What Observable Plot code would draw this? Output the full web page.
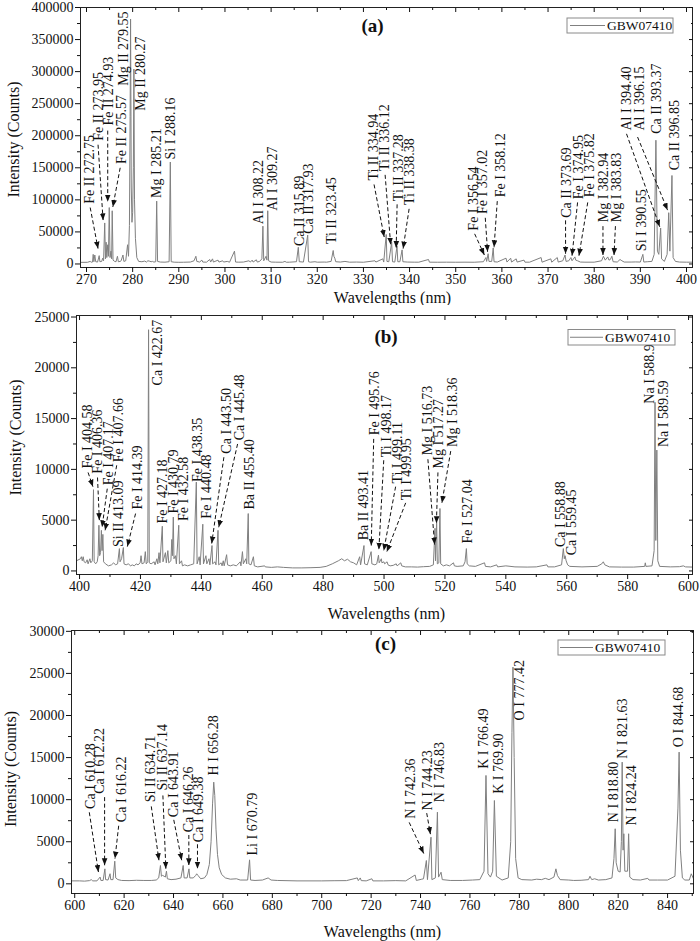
<!DOCTYPE html>
<html>
<head>
<meta charset="utf-8">
<script src="https://cdn.jsdelivr.net/npm/d3@7"></script>
<script src="https://cdn.jsdelivr.net/npm/@observablehq/plot@0.6"></script>
<style>
  body { margin: 0; background: #fff; }
  #chart { width: 700px; }
  #chart svg { display: block; }
</style>
</head>
<body>
<div id="chart"></div>
<script>
// ---------------- DATA ----------------
const seriesName = "GBW07410";
const yTitle = "Intensity (Counts)";
const xTitle = "Wavelengths (nm)";

// Panel (a) 270–400 nm : [wavelength nm, intensity counts]
const spectrumA = [
 [268.7,2500],[270.2,2600],[270.8,4000],[271.0,2800],[271.3,3000],[271.45,15000],[271.6,3500],[271.8,14000],[272.0,3500],[272.4,3000],[272.75,13000],[272.9,3500],[273.3,4000],[273.5,9000],[273.7,5000],[273.95,64000],[274.1,8000],[274.25,34000],[274.4,10000],[274.6,30000],[274.75,12000],[274.93,88000],[275.1,10000],[275.3,20000],[275.45,8000],[275.57,83000],[275.75,6000],[276.1,4000],[276.4,3500],[276.7,12000],[276.9,3500],[277.3,4000],[277.5,5000],[277.9,14000],[278.1,4000],[278.5,5000],[278.9,30000],[279.1,12000],[279.3,60000],[279.45,230000],[279.55,382000],[279.7,120000],[279.85,65000],[280.0,80000],[280.15,150000],[280.27,304000],[280.4,100000],[280.6,40000],[280.9,10000],[281.3,4000],[282.0,3500],[282.6,4500],[283.0,3000],[283.3,5000],[283.6,4500],[284.0,3500],[284.3,4000],[284.6,3000],[285.0,3500],[285.21,98000],[285.4,4000],[286,3000],[287,2800],[287.9,3500],[288.16,159000],[288.35,3500],[289,2800],[290,2600],[291,2700],[292.5,3000],[293.3,5000],[293.7,12000],[293.9,4000],[294.5,3000],[295.0,6000],[295.2,3000],[296,2800],[296.7,7000],[296.9,3000],[297.3,8000],[297.5,3000],[298.5,6000],[298.7,3000],[299.5,5000],[299.7,3000],[300.5,4000],[301,2800],[302.06,20000],[302.3,3000],[303,2800],[304,3000],[305.2,5000],[305.5,3000],[305.9,6000],[306.1,3000],[306.8,6500],[307.0,3000],[307.5,4000],[308.0,8000],[308.22,59000],[308.4,5000],[308.9,12000],[309.1,6000],[309.27,83000],[309.45,5000],[310,3000],[311,2800],[312.5,2700],[313,4000],[313.3,2700],[314,2800],[315.5,3500],[315.89,26000],[316.1,3500],[317,3000],[317.93,45000],[318.1,3500],[318.5,2800],[319.5,3500],[320,2800],[321.5,3000],[322,2800],[323.0,4000],[323.45,21000],[323.6,12000],[323.8,9000],[324,3500],[325,3000],[326,4000],[327,2800],[328.5,3000],[330,2700],[332.5,5000],[332.7,3000],[334.2,8000],[334.4,3000],[334.94,46000],[335.1,4000],[335.5,3500],[336.12,34000],[336.3,3500],[336.8,3000],[337.28,28000],[337.45,3500],[337.9,3500],[338.38,22000],[338.55,3500],[339.5,3000],[341,2800],[342,2800],[344.1,7000],[344.3,2800],[346,2700],[348,2800],[350,2700],[352,2800],[354,2700],[356.0,3500],[356.54,10000],[356.7,4000],[357.02,16000],[357.2,4000],[357.8,4000],[358.12,25000],[358.3,3500],[359,3000],[360.9,9000],[361.1,3000],[361.9,9000],[362.1,3000],[363.1,8000],[363.3,3000],[364.8,6000],[365,2800],[366,2800],[368.5,10000],[368.7,2800],[370.6,8000],[370.8,2800],[372.0,10000],[372.2,3000],[373.2,5000],[373.69,14000],[373.9,4000],[374.5,5000],[374.95,10000],[375.2,5000],[375.82,11000],[376.0,6000],[376.4,5000],[377,3000],[378,2800],[380,2800],[381.6,5000],[382.0,12000],[382.4,6000],[382.94,11000],[383.2,6000],[383.5,7000],[383.83,12000],[384.1,3500],[385,3000],[385.6,7000],[386,5000],[386.5,3000],[388,3000],[389,3200],[390,3000],[390.55,15000],[390.75,3000],[391.5,3500],[392.5,4000],[393.0,15000],[393.37,193000],[393.7,20000],[394.0,15000],[394.4,56000],[394.6,8000],[395.2,4000],[395.8,15000],[396.15,80000],[396.4,20000],[396.85,138000],[397.1,10000],[397.6,4000],[398.5,3000],[400,2800],[401.3,2800]
];
const labelsA = [
 {t:"Fe II 272.75", x:270.7, y:94000},
 {t:"Fe II 273.95", x:272.5, y:192000},
 {t:"Fe II 274.93", x:274.7, y:216000},
 {t:"Fe II 275.57", x:277.5, y:156000},
 {t:"Mg II 279.55", x:278.0, y:278000},
 {t:"Mg II 280.27", x:281.7, y:239000},
 {t:"Mg I 285.21", x:285.1, y:103000},
 {t:"Si I 288.16", x:288.2, y:163000},
 {t:"Al I 308.22", x:307.3, y:62000},
 {t:"Al I 309.27", x:310.2, y:83000},
 {t:"Ca II 315.89", x:316.2, y:28000},
 {t:"Ca II 317.93", x:318.2, y:47000},
 {t:"Ti II 323.45", x:323.1, y:31000},
 {t:"Ti II 334.94", x:332.2, y:130000},
 {t:"Ti II 336.12", x:334.6, y:145000},
 {t:"Ti II 337.28", x:337.5, y:98000},
 {t:"Ti II 338.38", x:340.0, y:92000},
 {t:"Fe I 356.54", x:353.8, y:52000},
 {t:"Fe I 357.02", x:355.9, y:78000},
 {t:"Fe I 358.12", x:359.6, y:104000},
 {t:"Ca II 373.69", x:374.0, y:72000},
 {t:"Fe I 374.95", x:376.5, y:101000},
 {t:"Fe I 375.82", x:379.0, y:104000},
 {t:"Mg I 382.94", x:382.1, y:65000},
 {t:"Mg I 383.83", x:384.8, y:65000},
 {t:"Si I 390.55", x:390.2, y:20000},
 {t:"Al I 394.40", x:387.0, y:208000},
 {t:"Al I 396.15", x:389.9, y:208000},
 {t:"Ca II 393.37", x:393.5, y:203000},
 {t:"Ca II 396.85", x:397.3, y:146000}
];
const arrowsA = [
 {x1:270.8, y1:88000, x2:272.5, y2:24000},
 {x1:272.5, y1:186000, x2:273.6, y2:68000},
 {x1:274.6, y1:208000, x2:274.6, y2:97000},
 {x1:277.3, y1:150000, x2:275.7, y2:89000},
 {x1:332.3, y1:124000, x2:334.5, y2:42000},
 {x1:334.7, y1:139000, x2:335.9, y2:30000},
 {x1:337.3, y1:93000, x2:337.1, y2:25000},
 {x1:339.9, y1:86000, x2:338.6, y2:24000},
 {x1:354.1, y1:47000, x2:356.2, y2:14000},
 {x1:356.4, y1:72000, x2:356.9, y2:19000},
 {x1:359.0, y1:98000, x2:358.3, y2:26000},
 {x1:373.8, y1:68000, x2:373.8, y2:16000},
 {x1:376.4, y1:96000, x2:375.2, y2:13000},
 {x1:378.6, y1:96000, x2:376.7, y2:13000},
 {x1:381.9, y1:59000, x2:381.9, y2:14000},
 {x1:384.6, y1:59000, x2:384.3, y2:14000},
 {x1:387.0, y1:203000, x2:394.2, y2:58000},
 {x1:389.4, y1:198000, x2:395.9, y2:84000}
];
const xTicksA = [270,280,290,300,310,320,330,340,350,360,370,380,390,400];
const yTicksA = [0,50000,100000,150000,200000,250000,300000,350000,400000];

// Panel (b) 400–600 nm
const spectrumB = [
 [399,1000],[400.3,1200],[400.6,1400],[400.9,1000],[401.2,1400],[401.5,900],[402,800],[402.5,1100],[402.8,700],[403.4,1200],[403.7,800],[404.2,1000],[404.58,8000],[404.8,900],[405.3,700],[405.8,900],[406.1,1500],[406.36,4500],[406.6,1500],[406.9,1800],[407.17,4000],[407.4,2000],[407.66,3600],[407.9,900],[408.5,700],[409.5,500],[410.5,600],[411.2,800],[411.8,600],[412.5,700],[413.09,2200],[413.3,900],[413.8,1200],[414.39,2300],[414.6,700],[415.3,600],[416,700],[416.8,500],[417.3,600],[418,500],[418.6,700],[419.2,600],[419.9,800],[420.2,1500],[420.5,700],[421.2,800],[421.6,1900],[421.9,700],[422.4,900],[422.67,23750],[422.9,800],[423.5,700],[424.5,900],[424.8,600],[425.4,1200],[425.7,700],[426.1,1800],[426.4,800],[427.18,4400],[427.4,900],[428.2,1800],[428.5,800],[429.0,2000],[429.3,800],[430.0,1000],[430.3,3100],[430.5,1500],[430.79,5300],[431.0,1200],[431.5,1500],[431.8,700],[432.58,4500],[432.8,700],[433.5,1000],[433.8,500],[434.5,600],[435.5,500],[436.5,600],[437.5,700],[438.35,8750],[438.6,700],[439.3,1400],[439.6,600],[440.48,4600],[440.7,700],[441.5,1500],[441.8,700],[442.5,1200],[442.8,600],[443.5,2500],[443.7,700],[444.5,900],[444.8,600],[445.48,4000],[445.7,600],[446.5,800],[446.8,500],[447.2,1000],[447.5,500],[448.3,1600],[448.6,600],[449.5,500],[450.5,600],[451.5,500],[452.8,900],[453.0,500],[453.5,1900],[453.8,700],[454.6,1200],[454.9,700],[455.40,5650],[455.6,700],[456.3,600],[457.1,1400],[457.4,500],[458.5,400],[460.8,500],[461,400],[463,350],[465,400],[467,350],[470,300],[473,300],[476,320],[479,350],[481,450],[483,700],[485,1000],[486.1,1200],[487,1000],[488,1150],[489,900],[490,800],[491,600],[492.0,1400],[492.3,600],[493.41,2500],[493.6,700],[494.5,600],[495.76,1900],[496,700],[497,600],[497.6,700],[498.17,1550],[498.4,800],[499.11,1200],[499.3,800],[499.95,900],[500.2,700],[501,900],[501.3,600],[502,500],[503,550],[504,700],[504.3,500],[505.5,800],[505.8,500],[507,400],[509,400],[511,380],[513,420],[515,450],[516.2,600],[516.73,4200],[516.9,1000],[517.27,5000],[517.5,700],[518.0,800],[518.36,6150],[518.6,700],[519.5,500],[520.5,600],[521.5,500],[522.8,800],[523.1,500],[524,450],[526,500],[526.6,900],[527.04,2200],[527.3,700],[528,500],[530,450],[533,800],[533.3,450],[535,400],[537,600],[537.3,400],[540,500],[543,400],[547,380],[550,400],[553.5,600],[553.8,400],[556,400],[558.3,600],[558.88,2200],[559.2,1200],[559.45,1500],[559.8,1000],[560.3,600],[561,450],[565,400],[570,450],[571.5,700],[572,900],[572.5,600],[574,400],[578,380],[582,380],[585.6,450],[585.8,800],[586,450],[588,500],[588.7,2000],[588.99,16600],[589.25,3000],[589.59,11900],[589.9,1000],[590.5,450],[594,400],[597,420],[598.3,500],[599,400],[601.3,380]
];
const labelsB = [
 {t:"Fe I 404.58", x:402.7, y:10080},
 {t:"Fe I 406.36", x:406.0, y:9580},
 {t:"Fe I 407.17", x:409.4, y:8430},
 {t:"Fe I 407.66", x:412.9, y:10700},
 {t:"Si II 413.09", x:412.9, y:2360},
 {t:"Fe I 414.39", x:418.9, y:6040},
 {t:"Ca I 422.67", x:425.5, y:18270},
 {t:"Fe I 427.18", x:427.4, y:4660},
 {t:"Fe I 430.79", x:430.8, y:5650},
 {t:"Fe I 432.58", x:434.1, y:4920},
 {t:"Fe I 438.35", x:438.6, y:8760},
 {t:"Fe I 440.48", x:441.7, y:5150},
 {t:"Ca I 443.50", x:448.3, y:11550},
 {t:"Ca I 445.48", x:452.6, y:12860},
 {t:"Ba II 455.40", x:455.9, y:6040},
 {t:"Ba II 493.41", x:493.4, y:3020},
 {t:"Fe I 495.76", x:497.0, y:13350},
 {t:"Ti I 498.17", x:500.7, y:11200},
 {t:"Ti I 499.11", x:504.3, y:8600},
 {t:"Ti I 499.95", x:507.4, y:6960},
 {t:"Mg I 516.73", x:514.4, y:11380},
 {t:"Mg I 517.27", x:518.0, y:10080},
 {t:"Mg I 518.36", x:522.4, y:12200},
 {t:"Fe I 527.04", x:527.5, y:2700},
 {t:"Ca I 558.88", x:558.0, y:2360},
 {t:"Ca I 559.45", x:561.5, y:1540},
 {t:"Na I 588.99", x:587.1, y:16470},
 {t:"Na I 589.59", x:591.9, y:12200}
];
const arrowsB = [
 {x1:402.8, y1:9700, x2:404.4, y2:8300},
 {x1:405.9, y1:9200, x2:406.5, y2:5000},
 {x1:409.1, y1:8100, x2:407.4, y2:4300},
 {x1:412.2, y1:10400, x2:408.4, y2:4000},
 {x1:418.4, y1:5650, x2:415.7, y2:2400},
 {x1:447.4, y1:11200, x2:443.4, y2:2700},
 {x1:451.9, y1:12500, x2:445.7, y2:4300},
 {x1:496.6, y1:13000, x2:495.8, y2:2500},
 {x1:499.9, y1:10900, x2:498.3, y2:2100},
 {x1:503.8, y1:8300, x2:499.9, y2:2000},
 {x1:507.1, y1:6700, x2:500.9, y2:1900},
 {x1:514.4, y1:11000, x2:516.6, y2:2600},
 {x1:517.7, y1:9700, x2:517.2, y2:4700},
 {x1:521.9, y1:11800, x2:519.0, y2:6700}
];
const xTicksB = [400,420,440,460,480,500,520,540,560,580,600];
const yTicksB = [0,5000,10000,15000,20000,25000];

// Panel (c) 600–850 nm
const spectrumC = [
 [598.7,350],[602,350],[604,320],[606,380],[606.7,500],[607.3,350],[609,350],[610.28,800],[610.6,400],[611.5,400],[612.22,1780],[612.5,500],[613.5,450],[614.3,1200],[614.6,500],[615.5,500],[616.22,2690],[616.6,700],[617.5,500],[619,400],[622,380],[625,420],[628,400],[631,400],[633,450],[634.0,700],[634.71,2180],[635.1,900],[635.6,1000],[636.2,900],[636.7,800],[637.14,1500],[637.5,600],[639,500],[641,550],[643.0,700],[643.91,2180],[644.3,700],[645.5,700],[646.26,1780],[646.6,700],[648,700],[649.0,1000],[649.38,1190],[649.9,1000],[651,600],[652.5,700],[653.5,1100],[654.5,2300],[655.2,5000],[655.8,9500],[656.28,12080],[656.7,10500],[657.2,6500],[657.8,3500],[658.5,1900],[659.5,1100],[661,700],[663,550],[665.5,600],[667,450],[670,450],[670.79,2850],[671.2,450],[673,400],[676,450],[678.3,700],[679.5,450],[682,400],[690,350],[700,350],[705,370],[710,380],[714.4,700],[714.8,380],[715.6,700],[716,380],[718,350],[720.3,600],[720.7,350],[725,350],[730,380],[734,350],[737.8,1050],[738.3,400],[740.5,550],[741.2,600],[742.36,2770],[742.8,500],[744.23,5540],[744.6,500],[746.0,700],[746.83,8510],[747.3,800],[748.3,1380],[748.8,500],[752,400],[757,400],[761,450],[764,500],[765.7,1500],[766.49,12880],[767.3,1200],[768.3,800],[769.2,1500],[769.9,9900],[770.7,900],[773,450],[775.5,700],[776.5,5000],[777.0,18000],[777.42,25750],[777.9,15000],[778.5,3000],[779.5,700],[781,500],[785,450],[787,550],[789,500],[790.5,650],[792,500],[794.0,800],[794.8,1780],[795.4,1000],[796.5,500],[800,450],[802,400],[805,420],[808.0,500],[808.6,900],[809.3,500],[810.5,600],[812,450],[815,500],[817.5,700],[818.3,3000],[818.8,6540],[819.2,2500],[820.0,1500],[820.8,1400],[821.3,5000],[821.63,14460],[822.0,4000],[822.3,5950],[822.7,1500],[823.8,1500],[824.24,5950],[824.7,800],[826,500],[829,450],[832,650],[832.5,450],[836,450],[840,450],[843,900],[844.2,9000],[844.68,15650],[845.2,4000],[846,700],[847,450],[848.8,450],[849.6,1190],[850.5,600]
];
const labelsC = [
 {t:"Ca I 610.28", x:606.4, y:8900},
 {t:"Ca I 612.22", x:610.2, y:10700},
 {t:"Ca I 616.22", x:618.8, y:7330},
 {t:"Si II 634.71", x:630.7, y:9700},
 {t:"Si II 637.14", x:635.7, y:11090},
 {t:"Ca I 643.91", x:640.1, y:7920},
 {t:"Ca I 646.26", x:646.2, y:6130},
 {t:"Ca I 649.38", x:650.2, y:4950},
 {t:"H I 656.28", x:656.3, y:12880},
 {t:"Li I 670.79", x:671.9, y:3370},
 {t:"N I 742.36", x:735.9, y:7730},
 {t:"N I 744.23", x:742.7, y:8720},
 {t:"N I 746.83", x:747.8, y:9700},
 {t:"K I 766.49", x:765.6, y:13670},
 {t:"K I 769.90", x:771.7, y:10700},
 {t:"O I 777.42", x:780.2, y:19420},
 {t:"N I 818.80", x:818.3, y:7330},
 {t:"N I 821.63", x:821.7, y:14860},
 {t:"N I 824.24", x:825.3, y:6930},
 {t:"O I 844.68", x:844.6, y:16240}
];
const arrowsC = [
 {x1:605.9, y1:8500, x2:609.6, y2:1400},
 {x1:612.1, y1:10300, x2:612.1, y2:2200},
 {x1:617.8, y1:6900, x2:616.3, y2:3000},
 {x1:631.0, y1:9200, x2:634.1, y2:2800},
 {x1:635.7, y1:10500, x2:636.9, y2:1800},
 {x1:640.1, y1:7600, x2:643.3, y2:2800},
 {x1:646.2, y1:5800, x2:646.2, y2:2200},
 {x1:649.7, y1:4700, x2:649.7, y2:1800},
 {x1:735.4, y1:7300, x2:741.3, y2:3600},
 {x1:742.5, y1:8400, x2:744.0, y2:5900}
];
const xTicksC = [600,620,640,660,680,700,720,740,760,780,800,820,840];
const yTicksC = [0,5000,10000,15000,20000,25000,30000];

// ---------------- RENDER ----------------
const FONT = "'Liberation Serif','Times New Roman',Times,serif";
const fmt = d3.format("d");
const blank = () => "";

function filledArrow(color) {
  const m = d3.create("svg:marker")
    .attr("viewBox", "-10 -5 10 10")
    .attr("markerWidth", 7).attr("markerHeight", 7)
    .attr("orient", "auto")
    .attr("fill", color).attr("stroke", "none");
  m.append("path").attr("d", "M-10,-4L0,0L-10,4Z");
  return m.node();
}

function panel(c) {
  const plot = Plot.plot({
    width: 700, height: c.height,
    marginTop: c.m[0], marginRight: c.m[1], marginBottom: c.m[2], marginLeft: c.m[3],
    style: {fontFamily: FONT, fontSize: "14px", color: "#111", background: "#fff"},
    x: {domain: c.xDomain, label: null},
    y: {domain: c.yDomain, label: null},
    marks: [
      Plot.line(c.spectrum, {x: d => d[0], y: d => d[1], stroke: "#808080", strokeWidth: 1}),
      Plot.link(c.arrows, {x1: "x1", y1: "y1", x2: "x2", y2: "y2", stroke: "#111", strokeWidth: 1, strokeDasharray: "4 2.5", markerEnd: filledArrow}),
      Plot.text(c.labels, {x: "x", y: "y", text: "t", rotate: -90, textAnchor: "start", lineAnchor: "middle", fontSize: 14, fill: "#111"}),
      Plot.frame({stroke: "#222"}),
      Plot.axisX({ticks: c.xTicks, tickSize: 5, tickPadding: 2, tickFormat: fmt, label: null}),
      Plot.axisX({ticks: c.xMinor, tickSize: 3, tickFormat: blank, label: null}),
      Plot.axisX({anchor: "top", ticks: c.xTicks, tickSize: -4, tickFormat: blank, label: null}),
      Plot.axisX({anchor: "top", ticks: c.xMinor, tickSize: -2, tickFormat: blank, label: null}),
      Plot.axisY({ticks: c.yTicks, tickSize: 5, tickPadding: 2, tickFormat: fmt, label: null}),
      Plot.axisY({ticks: c.yMinor, tickSize: 3, tickFormat: blank, label: null}),
      Plot.axisY({anchor: "right", ticks: c.yTicks, tickSize: -4, tickFormat: blank, label: null}),
      Plot.axisY({anchor: "right", ticks: c.yMinor, tickSize: -2, tickFormat: blank, label: null}),
      Plot.text([yTitle], {text: d => d, frameAnchor: "left", rotate: -90, textAnchor: "middle", lineAnchor: "middle", dx: c.yT[0], dy: c.yT[1], fontSize: 16}),
      Plot.text([xTitle], {text: d => d, frameAnchor: "bottom", textAnchor: "middle", lineAnchor: "middle", dx: c.xT[0], dy: c.xT[1], fontSize: 16}),
      Plot.text([c.tag], {text: d => d, frameAnchor: "top-left", textAnchor: "middle", lineAnchor: "middle", dx: c.tagPos[0], dy: c.tagPos[1], fontSize: 19, fontWeight: "bold"})
    ]
  });
  // legend box
  const L = c.legend; // [x, y, w, h, lineX1, lineX2, textX]
  const g = d3.select(plot).append("g");
  g.append("rect").attr("x", L[0]).attr("y", L[1]).attr("width", L[2]).attr("height", L[3])
    .attr("fill", "#fff").attr("stroke", "#8a8a8a").attr("stroke-width", 1);
  g.append("line").attr("x1", L[4]).attr("x2", L[5]).attr("y1", L[1] + L[3] / 2).attr("y2", L[1] + L[3] / 2)
    .attr("stroke", "#808080").attr("stroke-width", 1);
  g.append("text").attr("x", L[6]).attr("y", L[1] + L[3] / 2).attr("dy", "0.35em")
    .attr("text-anchor", "start")
    .attr("font-family", FONT).attr("font-size", 13.5).attr("fill", "#111").text(seriesName);
  return plot;
}

const chart = document.getElementById("chart");
chart.append(panel({
  height: 305, m: [7, 8, 38, 80],
  xDomain: [268.7, 401.3], yDomain: [-5500, 400000],
  spectrum: spectrumA, labels: labelsA, arrows: arrowsA,
  xTicks: xTicksA, xMinor: d3.range(275, 400, 10),
  yTicks: yTicksA, yMinor: d3.range(25000, 400000, 50000),
  yT: [-67, 2], xT: [6, 30], tag: "(a)", tagPos: [292, 18.5],
  legend: [567, 18, 106, 15, 570, 605, 607]
}));
chart.append(panel({
  height: 318, m: [10, 8, 49, 76],
  xDomain: [399.0, 601.3], yDomain: [-350, 25150],
  spectrum: spectrumB, labels: labelsB, arrows: arrowsB,
  xTicks: xTicksB, xMinor: d3.range(410, 600, 20),
  yTicks: yTicksB, yMinor: d3.range(2500, 25000, 5000),
  yT: [-61, -7.5], xT: [2, 39], tag: "(b)", tagPos: [309.5, 21.5],
  legend: [568, 24.5, 107, 15.5, 570, 603, 605]
}));
chart.append(panel({
  height: 318, m: [7, 7, 48, 71],
  xDomain: [598.7, 850.5], yDomain: [-1150, 30100],
  spectrum: spectrumC, labels: labelsC, arrows: arrowsC,
  xTicks: xTicksC, xMinor: d3.range(610, 851, 20),
  yTicks: yTicksC, yMinor: d3.range(2500, 30000, 5000),
  yT: [-61, 7], xT: [0, 38.7], tag: "(c)", tagPos: [314, 13.5],
  legend: [558, 17, 107, 15, 560, 593, 595]
}));
</script>
</body>
</html>
